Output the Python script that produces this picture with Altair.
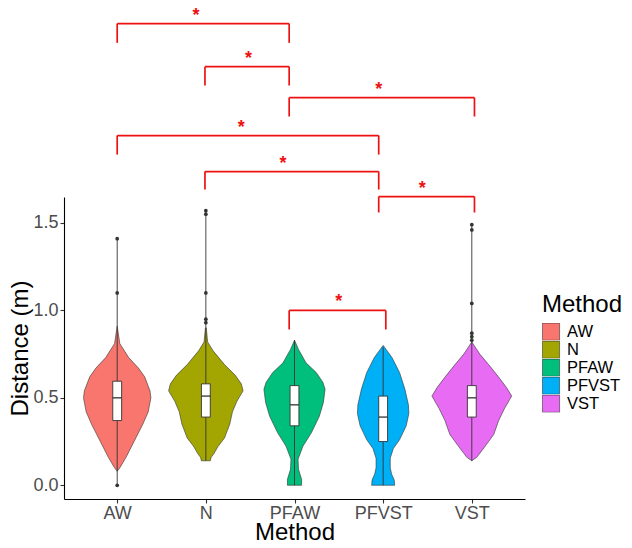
import altair as alt
import pandas as pd

# ---------------- data ----------------
methods = ["AW", "N", "PFAW", "PFVST", "VST"]
colors = ["#F8766D", "#A3A500", "#00BF7D", "#00B0F6", "#E76BF3"]
positions = [1, 2, 3, 4, 5]

# violin outlines: distance (m) and half-width (x units)
aw_y = [0.08, 0.10, 0.16, 0.25, 0.35, 0.42, 0.50, 0.54, 0.62, 0.67, 0.73, 0.81, 0.91]
aw_w = [0.0, 0.03, 0.10, 0.19, 0.29, 0.35, 0.38, 0.37, 0.31, 0.24, 0.13, 0.03, 0.0]
n_y = [0.14, 0.16, 0.18, 0.22, 0.27, 0.35, 0.42, 0.48, 0.54, 0.58, 0.63, 0.69, 0.77, 0.82, 0.90]
n_w = [0.05, 0.06, 0.09, 0.135, 0.21, 0.27, 0.30, 0.35, 0.42, 0.40, 0.33, 0.21, 0.08, 0.02, 0.005]
pfaw_y = [0.0, 0.034, 0.091, 0.149, 0.223, 0.30, 0.394, 0.474, 0.549, 0.589, 0.645, 0.70, 0.777, 0.83]
pfaw_w = [0.08, 0.08, 0.045, 0.04, 0.095, 0.19, 0.28, 0.326, 0.345, 0.32, 0.245, 0.13, 0.045, 0.0]
pfvst_y = [0.0, 0.03, 0.065, 0.10, 0.155, 0.21, 0.26, 0.34, 0.41, 0.46, 0.55, 0.645, 0.73, 0.80]
pfvst_w = [0.13, 0.125, 0.095, 0.08, 0.08, 0.115, 0.185, 0.26, 0.29, 0.285, 0.245, 0.185, 0.10, 0.0]
vst_y = [0.14, 0.16, 0.22, 0.29, 0.37, 0.44, 0.51, 0.56, 0.62, 0.69, 0.75, 0.82]
vst_w = [0.0, 0.056, 0.146, 0.247, 0.303, 0.37, 0.45, 0.39, 0.30, 0.19, 0.09, 0.0]

# boxplot stats
q1 = [0.37, 0.39, 0.34, 0.25, 0.39]
median = [0.50, 0.51, 0.46, 0.39, 0.50]
q3 = [0.595, 0.58, 0.57, 0.51, 0.57]
lo = [0.0, 0.14, 0.0, 0.0, 0.14]
hi = [1.41, 1.57, 0.83, 0.79, 1.49]

# outlier points
out_method = ["AW", "AW", "AW", "N", "N", "N", "N", "N", "VST", "VST", "VST", "VST", "VST", "VST"]
out_value = [0.0, 1.10, 1.41, 0.93, 0.95, 1.10, 1.55, 1.57, 0.83, 0.85, 0.87, 1.04, 1.46, 1.49]

# significance brackets
br_x1 = [1.0, 1.99, 2.94, 1.0, 1.99, 3.95, 2.94]
br_x2 = [2.94, 2.94, 5.03, 3.95, 3.95, 5.03, 4.03]
br_top = [2.64, 2.394, 2.217, 2.0, 1.794, 1.651, 1.0]
br_tip = [2.53, 2.286, 2.109, 1.891, 1.691, 1.56, 0.891]
star_x = [1.89, 2.48, 3.95, 2.40, 2.87, 4.44, 3.50]
star_label = ["*", "*", "*", "*", "*", "*", "*"]

# ---------------- tables ----------------
profiles = [(aw_y, aw_w), (n_y, n_w), (pfaw_y, pfaw_w), (pfvst_y, pfvst_w), (vst_y, vst_w)]
vrows = []
for m, p, (ys, ws) in zip(methods, positions, profiles):
    for yy, ww in zip(ys, ws):
        vrows.append({"Method": m, "pos": p, "y": yy, "w": ww})
vdf = pd.DataFrame(vrows)

bdf = pd.DataFrame({"Method": methods, "pos": positions, "q1": q1, "med": median,
                    "q3": q3, "lo": lo, "hi": hi})
odf = pd.DataFrame({"Method": out_method, "val": out_value})
odf["pos"] = odf["Method"].map(dict(zip(methods, positions)))
brdf = pd.DataFrame({"x1": br_x1, "x2": br_x2, "top": br_top, "tip": br_tip,
                     "sx": star_x, "lab": star_label})

# ---------------- scales / axes ----------------
xscale = alt.Scale(domain=[0.4, 5.6], nice=False, zero=False)
yscale = alt.Scale(domain=[-0.0785, 1.6485], nice=False, zero=False)
label_expr = "[" + ",".join("'%s'" % m for m in methods) + "][datum.value - 1]"

axis_common = dict(grid=False, domainColor="black", domainWidth=1.1, tickColor="#333333",
                   tickSize=4, tickWidth=1.1, labelFontSize=18, labelColor="#4D4D4D",
                   titleFontSize=24, titleColor="black", titleFontWeight="normal",
                   labelOverlap=False)
xaxis = alt.Axis(values=positions, labelExpr=label_expr, title="Method",
                 labelPadding=1, titleBaseline="alphabetic", titleY=40,
                 labelFlush=False, **axis_common)
yaxis = alt.Axis(values=[0, 0.5, 1.0, 1.5], format=".1f", title="Distance (m)",
                 labelPadding=2, titlePadding=0, **axis_common)


def X(f, **kw):
    return alt.X(f, scale=xscale, axis=xaxis, **kw)


def Y(f, **kw):
    return alt.Y(f, scale=yscale, axis=yaxis, **kw)


legend = alt.Legend(title="Method", orient="none", legendX=478, legendY=96,
                    titleFontSize=24, titleFontWeight="normal", titleColor="black",
                    titlePadding=6, labelFontSize=16.5, labelColor="black",
                    symbolType="square", symbolSize=295, symbolStrokeColor="#333333",
                    symbolStrokeWidth=0.6, rowPadding=0, clipHeight=17.4,
                    labelOffset=7, padding=0)

violins = alt.Chart(vdf).mark_area(orient="horizontal", stroke="#333333",
                                    strokeWidth=0.6, opacity=1).transform_calculate(
    xlo="datum.pos - datum.w", xhi="datum.pos + datum.w"
).encode(
    y=Y("y:Q", stack=None),
    x=X("xlo:Q", stack=None),
    x2="xhi:Q",
    color=alt.Color("Method:N", scale=alt.Scale(domain=methods, range=colors), legend=legend),
)

whisk = alt.Chart(bdf).mark_rule(color="#333333", strokeWidth=0.9).encode(
    x=X("pos:Q"), y=Y("lo:Q"), y2="hi:Q")

boxes = alt.Chart(bdf).mark_rect(fill="white", stroke="#333333", strokeWidth=0.9).transform_calculate(
    b1="datum.pos - 0.05", b2="datum.pos + 0.05"
).encode(x=X("b1:Q"), x2="b2:Q", y=Y("q1:Q"), y2="q3:Q")

meds = alt.Chart(bdf).mark_rule(color="#333333", strokeWidth=1.3).transform_calculate(
    b1="datum.pos - 0.05", b2="datum.pos + 0.05"
).encode(x=X("b1:Q"), x2="b2:Q", y=Y("med:Q"))

outs = alt.Chart(odf).mark_circle(size=14, color="#333333", opacity=1).encode(
    x=X("pos:Q"), y=Y("val:Q"))

red = "#EE1111"
br_h = alt.Chart(brdf).mark_rule(color=red, strokeWidth=1.7).encode(
    x=X("x1:Q"), x2="x2:Q", y=Y("top:Q"))
br_l = alt.Chart(brdf).mark_rule(color=red, strokeWidth=1.7).encode(
    x=X("x1:Q"), y=Y("tip:Q"), y2="top:Q")
br_r = alt.Chart(brdf).mark_rule(color=red, strokeWidth=1.7).encode(
    x=X("x2:Q"), y=Y("tip:Q"), y2="top:Q")
stars = alt.Chart(brdf).mark_text(color=red, fontSize=18, fontWeight="bold",
                                  baseline="alphabetic", dy=-3).encode(
    x=X("sx:Q"), y=Y("top:Q"), text="lab:N")

chart = alt.layer(violins, whisk, boxes, meds, outs, br_h, br_l, br_r, stars).properties(
    width=461, height=302,
    padding={"left": 56, "top": 189, "right": 99, "bottom": 41},
    autosize=alt.AutoSizeParams(type="none"),
).configure(font="Liberation Sans").configure_view(strokeWidth=0)

chart.save("out.html", embed_options={"renderer": "svg", "actions": False})
